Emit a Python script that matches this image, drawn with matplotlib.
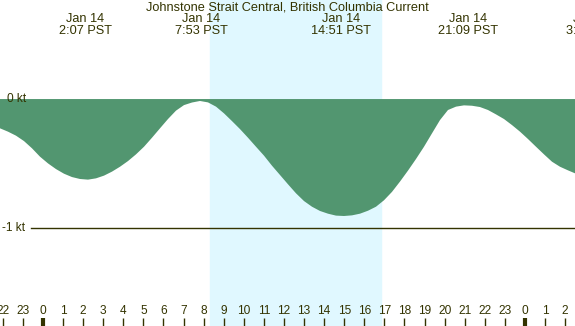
import matplotlib
matplotlib.use("Agg")
import matplotlib.pyplot as plt

# ---- data (hour of Jan 14, current speed in knots) ----
hours = [-2.141, -1.743, -1.345, -0.946, -0.548, -0.149, 0.249, 0.647, 1.046, 1.444,
         1.843, 2.241, 2.639, 3.038, 3.436, 3.835, 4.233, 4.632, 5.030, 5.428,
         5.827, 6.225, 6.624, 7.022, 7.420,
         7.819, 8.217, 8.616, 9.014, 9.412, 9.811, 10.209, 10.608, 11.006, 11.404,
         11.803, 12.201, 12.600, 12.998, 13.396, 13.795, 14.193, 14.592, 14.990, 15.388,
         15.787, 16.185, 16.584, 16.982,
         17.380, 17.779, 18.177, 18.576, 18.974, 19.373, 19.771, 20.169, 20.568, 20.966,
         21.365, 21.763, 22.161, 22.560, 22.958, 23.357, 23.755, 24.153, 24.552, 24.950,
         25.349, 25.747, 26.145, 26.494]
speed = [-0.227, -0.253, -0.284, -0.326, -0.382, -0.447, -0.499, -0.543, -0.579, -0.605,
         -0.620, -0.625, -0.615, -0.594, -0.563, -0.525, -0.481, -0.429, -0.370, -0.300,
         -0.227, -0.155, -0.090, -0.047, -0.027,
         -0.015, -0.026, -0.059, -0.111, -0.171, -0.233, -0.300, -0.370, -0.439, -0.517,
         -0.589, -0.661, -0.731, -0.791, -0.835, -0.868, -0.889, -0.904, -0.907, -0.902,
         -0.889, -0.866, -0.835, -0.785,
         -0.720, -0.640, -0.555, -0.465, -0.370, -0.266, -0.163, -0.085, -0.059, -0.049,
         -0.052, -0.062, -0.085, -0.119, -0.155, -0.202, -0.253, -0.310, -0.370, -0.429,
         -0.486, -0.525, -0.553, -0.576]

event_hours = [2.117, 7.883, 14.85, 21.15, 27.37]
event_dates = ["Jan 14", "Jan 14", "Jan 14", "Jan 14", "Jan 15"]
event_times = ["2:07 PST", "7:53 PST", "14:51 PST", "21:09 PST", "3:22 PST"]

tick_hours = list(range(-2, 27))
tick_labels = [str(h % 24) for h in tick_hours]

sunrise, sunset = 8.32, 16.83
level_values = [0, -1]
level_labels = ["0 kt", "-1 kt"]
title = "Johnstone Strait Central, British Columbia Current"

# ---- style ----
night = "#b0c4de"
day = "#e0f8ff"
green = "#529670"
ink = "#333300"
fam = ["Liberation Sans", "DejaVu Sans"]

fig = plt.figure(figsize=(5.75, 3.26), dpi=100)
ax = fig.add_axes([0, 0, 1, 1])
xmin, xmax = -2.141, 26.494
ymin, ymax = -1.760, 0.768
ax.set_xlim(xmin, xmax)
ax.set_ylim(ymin, ymax)
ax.set_facecolor(night)
ax.axis("off")

ax.axvspan(sunrise, sunset, color=day, zorder=0)
ax.fill_between(hours, speed, 0, color=green, lw=0, zorder=1)

# level lines & labels
ax.plot([-0.6, xmax], [level_values[1]] * 2, color=ink, lw=1.0, zorder=2)
ax.text(xmin + 0.33, level_values[0], level_labels[0], ha="left", va="center",
        fontsize=8.6, color=ink, family=fam, zorder=3)
ax.text(xmin + 0.08, level_values[1], level_labels[1], ha="left", va="center",
        fontsize=8.6, color=ink, family=fam, zorder=3)

# hour ticks
trans = ax.get_xaxis_transform()
for h, lab in zip(tick_hours, tick_labels):
    w = 3.0 if h % 24 == 0 else 1.0
    ax.plot([h, h], [0, 0.0245], transform=trans, color=ink, lw=w,
            solid_capstyle="butt", zorder=3)
    ax.text(h, 0.046, lab, transform=trans, ha="center", va="center",
            fontsize=8.6, color=ink, family=fam, zorder=3)

# event labels
for h, d, t in zip(event_hours, event_dates, event_times):
    ax.text(h, 0.942, d, transform=trans, ha="center", va="center",
            fontsize=9.2, color=ink, family=fam, zorder=3, clip_on=False)
    ax.text(h, 0.905, t, transform=trans, ha="center", va="center",
            fontsize=9.2, color=ink, family=fam, zorder=3, clip_on=False)

fig.text(0.5, 0.977, title, ha="center", va="center", fontsize=9.2,
         color=ink, family=fam)

fig.savefig("out.png", dpi=100)
